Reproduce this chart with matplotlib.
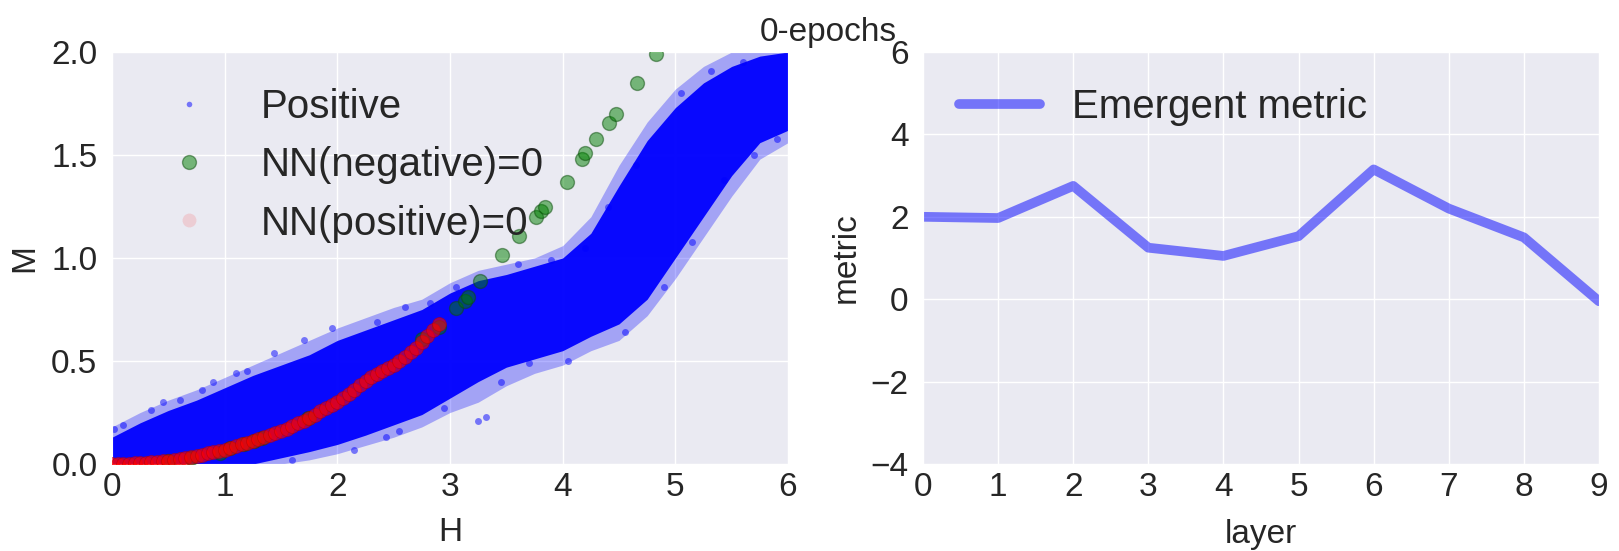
import numpy as np
import matplotlib
matplotlib.use("Agg")
import matplotlib.pyplot as plt
import seaborn as sns

sns.set_style("darkgrid")
plt.rcParams['font.family'] = ['Liberation Sans', 'DejaVu Sans']

# --- left panel: "Positive" cloud, read as envelopes from the picture
cloud_h = [0.0, 0.25, 0.5, 0.75, 1.0, 1.25, 1.5, 1.75, 2.0, 2.25, 2.5, 2.75, 3.0,
           3.25, 3.5, 3.75, 4.0, 4.25, 4.5, 4.75, 5.0, 5.25, 5.5, 5.75, 6.0]
# dense core
cloud_upper = [0.13, 0.2, 0.26, 0.31, 0.37, 0.43, 0.48, 0.53, 0.6, 0.65, 0.7, 0.75, 0.83,
               0.89, 0.92, 0.96, 1.0, 1.12, 1.35, 1.57, 1.73, 1.85, 1.93, 1.98, 2.0]
cloud_lower = [0.0, 0.0, 0.0, 0.0, 0.0, 0.0, 0.03, 0.06, 0.095, 0.14, 0.19, 0.24, 0.32,
               0.4, 0.47, 0.51, 0.55, 0.62, 0.68, 0.8, 1.0, 1.2, 1.4, 1.56, 1.62]
# sparse halo around it
halo_upper = [0.18, 0.25, 0.31, 0.36, 0.42, 0.48, 0.54, 0.6, 0.66, 0.71, 0.76, 0.8, 0.88,
              0.94, 0.97, 1.0, 1.06, 1.2, 1.45, 1.66, 1.82, 1.93, 2.0, 2.0, 2.0]
halo_lower = [0.0, 0.0, 0.0, 0.0, 0.0, 0.0, 0.0, 0.02, 0.05, 0.09, 0.13, 0.18, 0.25,
              0.3, 0.38, 0.44, 0.48, 0.55, 0.6, 0.72, 0.9, 1.1, 1.3, 1.48, 1.56]
# scattered points outside the band
outlier_h = [0.02, 0.1, 0.35, 0.6, 0.9, 1.2, 1.44, 1.7, 1.95, 2.35, 2.43, 2.6, 2.82,
             3.05, 3.32, 3.25, 3.6, 3.9, 4.2, 4.4, 4.65, 5.05, 5.32, 5.43, 5.6, 5.9,
             0.45, 0.8, 1.1, 1.6, 2.15, 2.55, 2.95, 3.45, 3.7, 4.05, 4.55, 4.9, 5.15, 5.7]
outlier_m = [0.17, 0.19, 0.26, 0.31, 0.4, 0.45, 0.54, 0.6, 0.66, 0.69, 0.13, 0.76, 0.78,
             0.86, 0.23, 0.21, 0.97, 0.99, 1.05, 1.25, 1.45, 1.8, 1.91, 1.38, 1.95, 1.58,
             0.3, 0.36, 0.44, 0.02, 0.07, 0.16, 0.27, 0.4, 0.49, 0.5, 0.64, 0.86, 1.08, 1.5]

neg_h = [0.5, 0.7, 0.96, 1.05, 1.17, 1.26, 1.33, 1.74, 2.75, 2.9, 3.05, 3.13, 3.16, 3.27,
         3.46, 3.61, 3.76, 3.81, 3.84, 4.04, 4.17, 4.2, 4.3, 4.41, 4.47, 4.66, 4.83]
neg_m = [0.015, 0.03, 0.054, 0.078, 0.095, 0.11, 0.127, 0.225, 0.606, 0.667, 0.757, 0.79,
         0.81, 0.89, 1.016, 1.108, 1.2, 1.23, 1.25, 1.37, 1.48, 1.51, 1.576, 1.656, 1.7,
         1.85, 1.99]

pos_h = [0.0, 0.05, 0.1, 0.15, 0.2, 0.25, 0.3, 0.35, 0.4, 0.45, 0.5, 0.55, 0.6, 0.65,
         0.7, 0.75, 0.8, 0.85, 0.9, 0.95, 1.0, 1.05, 1.1, 1.15, 1.2, 1.25, 1.3, 1.35,
         1.4, 1.45, 1.5, 1.55, 1.6, 1.65, 1.7, 1.75, 1.8, 1.85, 1.9, 1.95, 2.0, 2.05,
         2.1, 2.15, 2.2, 2.25, 2.3, 2.35, 2.4, 2.45, 2.5, 2.55, 2.6, 2.65, 2.7, 2.75,
         2.8, 2.85, 2.9]
pos_m = [0.0, 0.0, 0.001, 0.002, 0.004, 0.005, 0.007, 0.009, 0.011, 0.013, 0.016, 0.02,
         0.024, 0.029, 0.034, 0.04, 0.045, 0.051, 0.057, 0.063, 0.07, 0.078, 0.087,
         0.095, 0.104, 0.113, 0.122, 0.131, 0.14, 0.15, 0.16, 0.172, 0.185, 0.197, 0.21,
         0.225, 0.24, 0.255, 0.27, 0.285, 0.3, 0.32, 0.34, 0.36, 0.385, 0.405, 0.42,
         0.435, 0.45, 0.465, 0.48, 0.5, 0.52, 0.545, 0.565, 0.59, 0.62, 0.65, 0.68]

# --- right panel
layers = [0, 1, 2, 3, 4, 5, 6, 7, 8, 9]
metric = [2.0, 1.97, 2.75, 1.25, 1.05, 1.53, 3.15, 2.2, 1.5, -0.05]

fig = plt.figure(figsize=(16.19, 5.51), dpi=100)
ax1 = fig.add_axes([112 / 1619, 87 / 551, 676 / 1619, 412 / 551])
ax2 = fig.add_axes([923 / 1619, 87 / 551, 676 / 1619, 412 / 551])

ax1.fill_between(cloud_h, halo_lower, halo_upper, color='b', alpha=0.3, lw=0, zorder=2)
ax1.fill_between(cloud_h, cloud_lower, cloud_upper, color='b', alpha=0.95, lw=0, zorder=2)
ax1.plot(outlier_h, outlier_m, 'o', color='b', alpha=0.5, ms=5, mew=0,
         label='Positive', zorder=2)
ax1.plot(neg_h, neg_m, 'o', color='g', alpha=0.5, ms=10, mec='#0b4d0b', mew=1,
         label='NN(negative)=0', zorder=3)
ax1.plot(pos_h, pos_m, 'o', color='r', alpha=0.6, ms=10, mec='#b00000', mew=0.5,
         label='NN(positive)=0', zorder=4)

ax1.set_xlim(0, 6)
ax1.set_ylim(0, 2)
ax1.set_xticks([0, 1, 2, 3, 4, 5, 6])
ax1.set_yticks([0.0, 0.5, 1.0, 1.5, 2.0])
ax1.set_yticklabels(['0.0', '0.5', '1.0', '1.5', '2.0'])
ax1.set_xlabel('H', fontsize=24, labelpad=10)
ax1.set_ylabel('M', fontsize=24, labelpad=8)
leg1 = ax1.legend(loc='upper left', frameon=False, fontsize=29, labelspacing=0.5)
leg1.legend_handles[0].set_markersize(4)
leg1.legend_handles[2].set_alpha(0.12)
leg1.legend_handles[2].set_markeredgewidth(0)

ax2.plot(layers, metric, color='b', alpha=0.5, lw=7, label='Emergent metric')
ax2.set_xlim(0, 9)
ax2.set_ylim(-4, 6)
ax2.set_xticks(layers)
ax2.set_yticks([-4, -2, 0, 2, 4, 6])
ax2.set_yticklabels(['\u22124', '\u22122', '0', '2', '4', '6'])
ax2.set_xlabel('layer', fontsize=24, labelpad=12)
ax2.set_ylabel('metric', fontsize=24, labelpad=6)
ax2.legend(loc='upper left', frameon=False, fontsize=29)

for ax in (ax1, ax2):
    ax.tick_params(axis='y', labelsize=24, pad=7)
    ax.tick_params(axis='x', labelsize=24, pad=2)
    ax.grid(True, color='white', lw=1)

fig.text(828 / 1619, 1 - 41 / 551, '0-epochs', fontsize=24, ha='center', va='baseline')

fig.savefig('out.png', dpi=100)
